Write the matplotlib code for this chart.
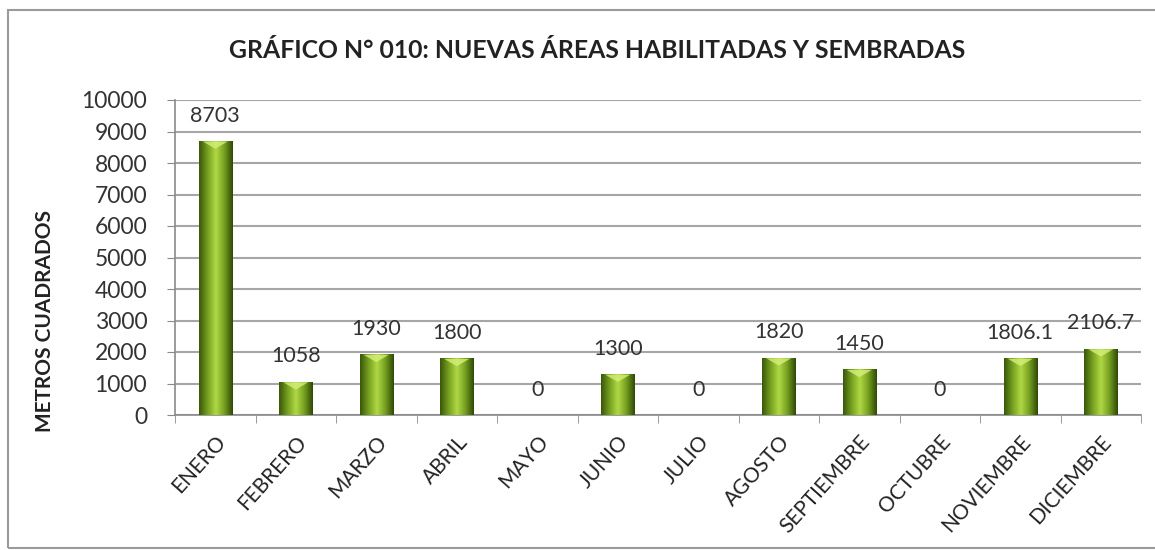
import numpy as np
import matplotlib.pyplot as plt
from matplotlib.patches import Rectangle
from matplotlib.colors import LinearSegmentedColormap

# datos del grafico
meses = ["ENERO", "FEBRERO", "MARZO", "ABRIL", "MAYO", "JUNIO", "JULIO",
         "AGOSTO", "SEPTIEMBRE", "OCTUBRE", "NOVIEMBRE", "DICIEMBRE"]
areas = [8703, 1058, 1930, 1800, 0, 1300, 0, 1820, 1450, 0, 1806.1, 2106.7]
etiquetas = ["8703", "1058", "1930", "1800", "0", "1300", "0", "1820", "1450", "0", "1806.1", "2106.7"]

plt.rcParams['font.family'] = ['Lato', 'DejaVu Sans']

fig = plt.figure(figsize=(11.55, 5.5), dpi=100)
ax = fig.add_axes([175/1155, 1 - 415/550, (1141-175)/1155, (415-100)/550])

# borde exterior del grafico
fig.patches.append(Rectangle((8/1155, 2/550), 1.2, 1 - 12/550, transform=fig.transFigure,
                             fill=False, edgecolor="#9a9a9a", linewidth=1.5))

x = np.arange(len(meses))
ancho = 0.41
barras = ax.bar(x, areas, width=ancho, color="#7fa82a", edgecolor="#3a560a", linewidth=0.6, zorder=3)

# degradado horizontal en cada barra
verde = LinearSegmentedColormap.from_list("verde", ["#3a580a", "#76a020", "#b0d844", "#76a020", "#2f4a08"])
grad = np.linspace(0, 1, 64).reshape(1, -1)
for b in barras:
    h = b.get_height()
    if h <= 0:
        continue
    im = ax.imshow(grad, cmap=verde, aspect="auto", zorder=4,
                   extent=[b.get_x(), b.get_x() + b.get_width(), 0, h])
    im.set_clip_path(b)
    # brillo en la parte superior
    tope = min(h, 250)
    ax.fill([b.get_x() + 0.05, b.get_x() + b.get_width() - 0.05, b.get_x() + b.get_width()/2],
            [h - 20, h - 20, h - tope], color="#d4f07a", alpha=0.8, zorder=5, lw=0)

for xi, v, t in zip(x, areas, etiquetas):
    ax.annotate(t, (xi, v), xytext=(0, 11), textcoords="offset points",
                ha="center", va="bottom", fontsize=15.5, color="#333333")

ax.set_xlim(-0.5, len(meses) - 0.5)
ax.set_ylim(0, 10000)
ax.set_yticks(np.arange(0, 10001, 1000))
ax.tick_params(axis="y", labelsize=16.5, colors="#333333", length=6, color="#8a8a8a", pad=14)
ax.set_xticks(x)
ax.set_xticklabels(meses, rotation=48, ha="right", rotation_mode="anchor", fontsize=15, color="#222222")
ax.tick_params(axis="x", length=0, pad=12)
ax.set_xticks(np.arange(-0.5, len(meses), 1), minor=True)
ax.tick_params(axis="x", which="minor", length=6, color="#8a8a8a")

ax.grid(axis="y", color="#a6a6a6", linewidth=1.5, zorder=0)
ax.set_axisbelow(True)
for s in ["top", "right"]:
    ax.spines[s].set_visible(False)
ax.spines["left"].set_color("#8a8a8a")
ax.spines["bottom"].set_color("#8a8a8a")
ax.spines["left"].set_linewidth(1.2)
ax.spines["bottom"].set_linewidth(1.2)

fig.text(597/1155, 1 - 50/550, "GRÁFICO N° 010: NUEVAS ÁREAS HABILITADAS Y SEMBRADAS",
         ha="center", va="center", fontsize=17.8, fontweight="bold", color="#222222")
fig.text(45/1155, 1 - 321/550, "METROS CUADRADOS", rotation=90, ha="center", va="center",
         fontsize=15, fontweight="bold", color="#222222")

fig.savefig("out.png", dpi=100)
